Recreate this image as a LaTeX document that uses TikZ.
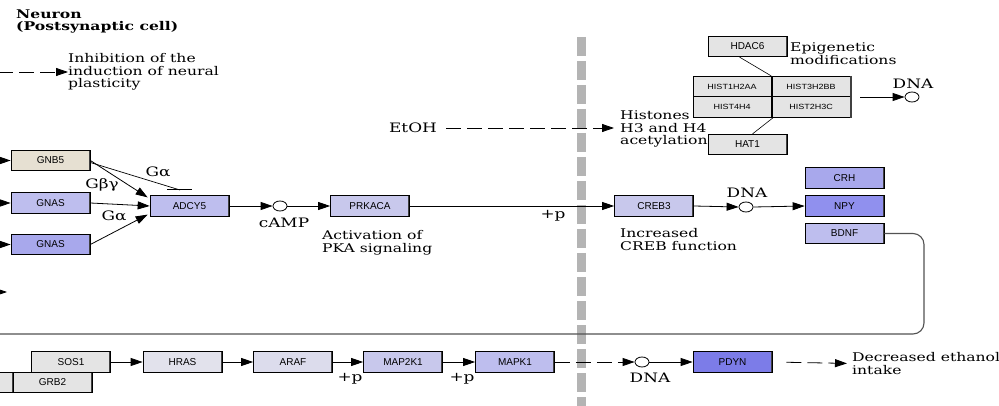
\documentclass[tikz,border=0pt]{standalone}
\usepackage{fontspec}
\setmainfont{DejaVu Serif}[FakeStretch=1.3]
\newfontfamily\boxfont{Liberation Sans}
\newfontfamily\histfont{Liberation Sans}[FakeStretch=1.2]
\usetikzlibrary{arrows.meta,shapes.geometric}
\definecolor{cbeige}{HTML}{E6E0D2}
\definecolor{cgray}{HTML}{E4E4E4}
\definecolor{cl1}{HTML}{DCDCEC}
\definecolor{cl0}{HTML}{E2E2EC}
\definecolor{cl2}{HTML}{C8C8EC}
\definecolor{cl3}{HTML}{BEBEEE}
\definecolor{cl4}{HTML}{A8A8EC}
\definecolor{cl5}{HTML}{9090EE}
\definecolor{cl6}{HTML}{7C7CE8}
\definecolor{barc}{HTML}{B4B4B4}
\begin{document}
\begin{tikzpicture}[x=1pt,y=-1pt,
  gene/.style={draw=black, line width=0.7pt, minimum width=79pt, minimum height=20.5pt, inner sep=0pt,
    font=\boxfont\fontsize{10}{11}\selectfont,
    path picture={\draw[line width=2.8pt, black!75] (path picture bounding box.north east) -- (path picture bounding box.south east);}},
  hist/.style={draw=black, line width=0.6pt, minimum width=78pt, minimum height=20.5pt, inner sep=0pt, fill=cgray,
    font=\histfont\fontsize{7.5}{8}\selectfont},
  cpd/.style={draw=black, ellipse, minimum width=14pt, minimum height=10pt, inner sep=0pt, line width=0.8pt, fill=white},
  arr/.style={-{Triangle[length=12pt,width=8pt]}, line width=0.8pt},
  dsh/.style={dash pattern=on 15pt off 6pt},
  lbl/.style={font=\fontsize{12}{12.5}\selectfont, inner sep=0pt, align=left},
  small/.style={font=\fontsize{13}{13}\selectfont, inner sep=0pt}
]
\useasboundingbox (0,0) rectangle (999,406);
\clip (0,0) rectangle (999,406);
% gray membrane bar
\draw[line width=9pt, barc, dash pattern=on 19pt off 5pt] (581,37) -- (581,420);

% title
\node[lbl, anchor=west, font=\bfseries\fontsize{12}{12.5}\selectfont] (title) at (16,21.5) {Neuron\\(Postsynaptic cell)};
\node[lbl, anchor=west] (inhib) at (68,72) {Inhibition of the\\induction of neural\\plasticity};
\coordinate (inl) at (-2,72);
\draw[arr, dsh] (inl) -- (inhib.west);

% G proteins
\node[gene, fill=cbeige] (gnb5) at (50.5,160.5) {GNB5};
\node[gene, fill=cl3] (gnas1) at (50.5,203) {GNAS};
\node[gene, fill=cl4] (gnas2) at (50.5,244.5) {GNAS};
\node[gene, fill=cl3] (adcy5) at (189.5,206) {ADCY5};
\coordinate (l1) at (-5,160.5);
\coordinate (l2) at (-5,203);
\coordinate (l3) at (-5,244.5);
\coordinate (l4a) at (-12,292);
\coordinate (l4b) at (7,292);
\draw[arr] (l1) -- (gnb5.west);
\draw[arr] (l2) -- (gnas1.west);
\draw[arr] (l3) -- (gnas2.west);
\draw[arr] (l4a) -- (l4b);
\coordinate (inh) at (180,190);
\draw[line width=0.7pt] ([yshift=-2pt]gnb5.east) -- (inh);
\draw[line width=1pt] ([xshift=-13pt]inh) -- ([xshift=12pt]inh);
\draw[arr] ([yshift=0pt]gnb5.east) -- ([xshift=-2pt,yshift=-2pt]adcy5.north west);
\draw[arr] (gnas1.east) -- (adcy5.west);
\draw[arr] (gnas2.east) -- ([xshift=-2pt,yshift=2pt]adcy5.south west);
\node[small] (ga1) at (158,172) {Gα};
\node[small] (gbg) at (102,185) {Gβγ};
\node[small] (ga2) at (114,216) {Gα};

% cAMP / PKA
\node[cpd] (camp) at (280,206) {};
\node[small] (camplbl) at (284,223) {cAMP};
\node[gene, fill=cl2] (prkaca) at (370,206) {PRKACA};
\draw[arr] (adcy5.east) -- (camp.west);
\draw[arr] (camp.east) -- (prkaca.west);
\node[lbl, anchor=west] (pka) at (322,243) {Activation of\\PKA signaling};
\node[gene, fill=cl2] (creb3) at (654,206) {CREB3};
\draw[arr] (prkaca.east) -- (creb3.west);
\node[small] (p1) at (553,216) {+p};
\node[lbl, anchor=west] (crebf) at (620,239.5) {Increased\\CREB function};
\node[cpd] (dna1) at (746,207) {};
\node[small] (dna1l) at (747,193) {DNA};
\draw[arr] (creb3.east) -- (dna1.west);
\node[gene, fill=cl4] (crh) at (844.5,178) {CRH};
\node[gene, fill=cl5] (npy) at (844.5,206) {NPY};
\node[gene, fill=cl3] (bdnf) at (844.5,233.5) {BDNF};
\draw[arr] (dna1.east) -- (npy.west);

% long return line
\coordinate (c1) at (924,233.5);
\coordinate (c2) at (924,334);
\coordinate (c3) at (-5,334);
\draw[line width=1.1pt, black!68, rounded corners=11pt] (bdnf.east) -- (c1) -- (c2) -- (c3);

% EtOH / histones
\node[lbl, anchor=west] (hist) at (620,129) {Histones\\H3 and H4\\acetylation};
\node[small] (etoh) at (413,128) {EtOH};
\coordinate (etip) at (614,128);
\draw[arr, dsh, shorten <=9pt] (etoh.east) -- (etip);
\node[gene, fill=cgray] (hdac6) at (747.5,46.5) {HDAC6};
\node[lbl, anchor=west] (epi) at (790,53.5) {Epigenetic\\modifications};
\node[hist] (h1) at (732,86.5) {HIST1H2AA};
\node[hist] (h2) at (811,86.5) {HIST3H2BB};
\node[hist] (h3) at (732,107) {HIST4H4};
\node[hist] (h4) at (811,107) {HIST2H3C};
\draw[line width=2.6pt, black!75] ([xshift=0.6pt]h2.north east) -- ([xshift=0.6pt]h4.south east);
\node[gene, fill=cgray] (hat1) at (747.5,144.5) {HAT1};
\draw[line width=0.6pt] ([xshift=-8pt]hdac6.south) -- (h1.north east);
\draw[line width=0.6pt] ([xshift=2pt]h3.south east) -- ([xshift=5pt]hat1.north);
\node[cpd] (dna0) at (912,97) {};
\node[small] (dna0l) at (913,84) {DNA};
\coordinate (d0s) at (860,97);
\draw[arr] (d0s) -- (dna0.west);

% MAPK cascade
\node[gene, fill=cgray] (grb2x) at (-26.5,382.5) {};
\node[gene, fill=cgray] (grb2) at (52.5,382.5) {GRB2};
\node[gene, fill=cgray] (sos1) at (71,362) {SOS1};
\node[gene, fill=cl0] (hras) at (182.5,362) {HRAS};
\node[gene, fill=cl1] (araf) at (293,362) {ARAF};
\node[gene, fill=cl2] (map2k1) at (403,362) {MAP2K1};
\node[gene, fill=cl3] (mapk1) at (515,362) {MAPK1};
\draw[arr] (sos1.east) -- (hras.west);
\draw[arr] (hras.east) -- (araf.west);
\draw[arr] (araf.east) -- (map2k1.west);
\draw[arr] (map2k1.east) -- (mapk1.west);
\node[small] (p2) at (350,379) {+p};
\node[small] (p3) at (462,379) {+p};
\node[cpd] (dna2) at (642,362) {};
\node[small] (dna2l) at (650,378) {DNA};
\draw[arr, dsh] (mapk1.east) -- (dna2.west);
\node[gene, fill=cl6] (pdyn) at (732.5,362) {PDYN};
\draw[arr] (dna2.east) -- (pdyn.west);
\node[lbl, anchor=west] (decr) at (852,363.5) {Decreased ethanol\\intake};
\draw[arr, dsh, shorten <=14pt, shorten >=5pt] (pdyn.east) -- (decr.west);
\end{tikzpicture}
\end{document}
